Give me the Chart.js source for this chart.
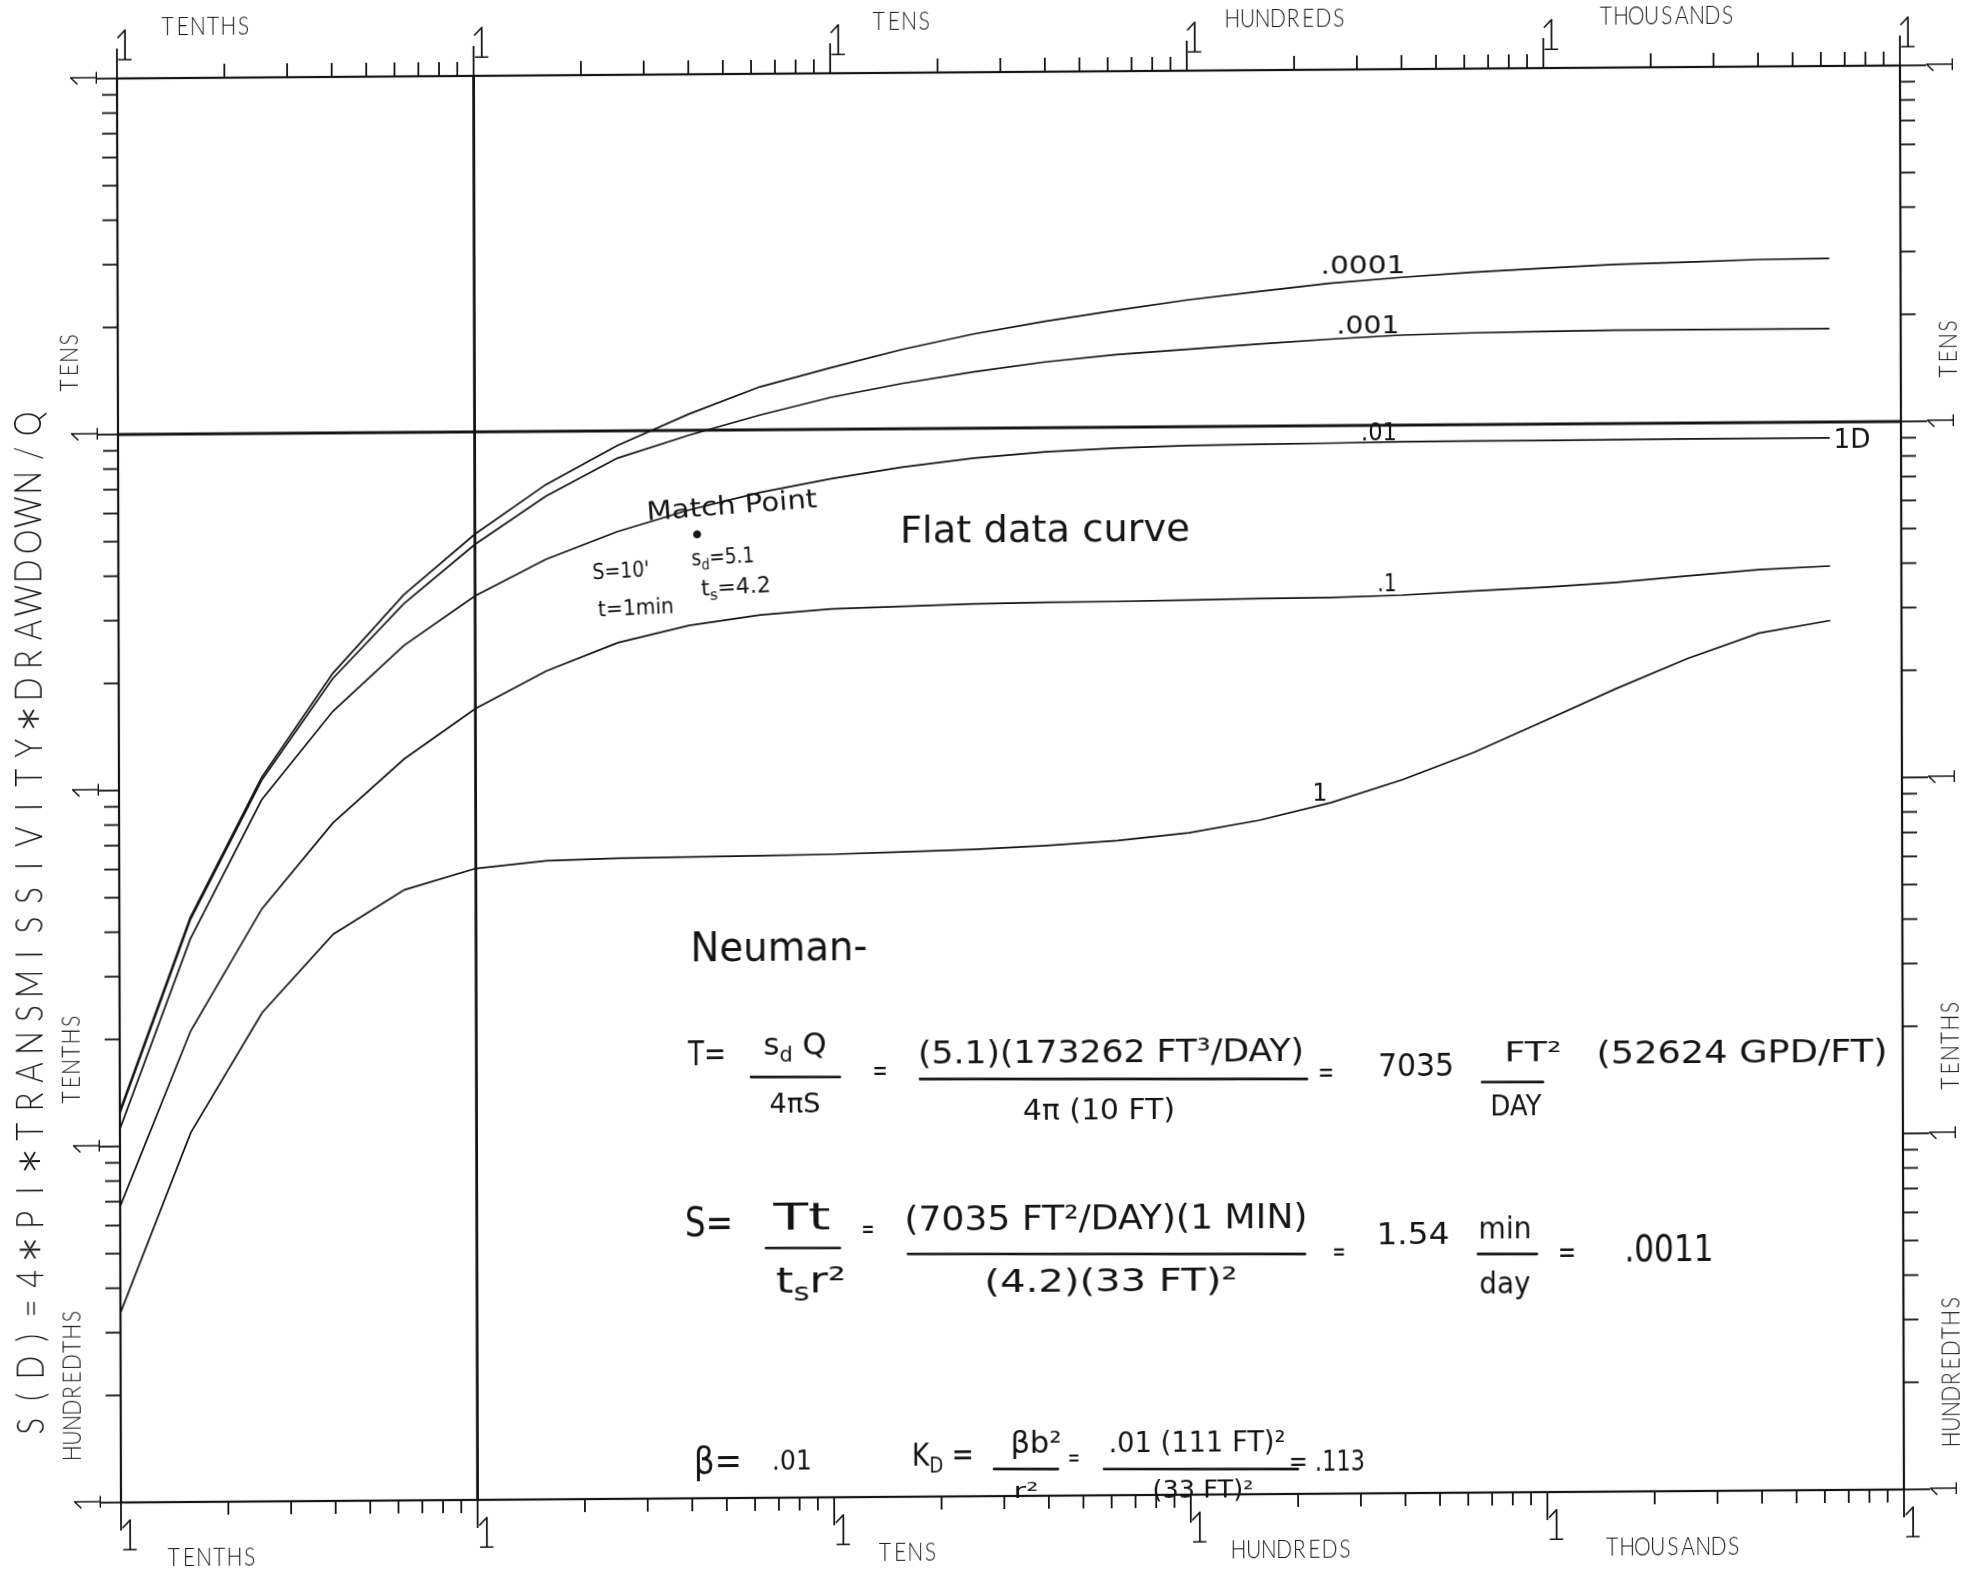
<!DOCTYPE html>
<html>
<head>
<meta charset="utf-8">
<title>Neuman type curves - S(D) vs dimensionless time</title>
<script src="https://cdn.jsdelivr.net/npm/chart.js@4.4.1/dist/chart.umd.min.js"></script>
<style>
  html, body { margin: 0; padding: 0; background: #fff; overflow: hidden; }
  #sheet { position: absolute; left: 0; top: 0; width: 1986px; height: 1572px;
           transform-origin: 1010px 784px; transform: matrix(1, -0.0073, 0.0028, 1, 0, 0); }
  canvas { display: block; }
</style>
</head>
<body>
<div id="sheet"><canvas id="chart" width="1986" height="1572"></canvas></div>
<script>
// ---- data -------------------------------------------------------------
// dimensionless time, five points per log cycle
const dimensionlessTime = [0.1, 0.158, 0.251, 0.398, 0.631, 1, 1.58, 2.51, 3.98, 6.31,
  10, 15.8, 25.1, 39.8, 63.1, 100, 158, 251, 398, 631, 1000, 1580, 2510, 3980, 6310];

// dimensionless drawdown S(D) for each beta
const sdBetaPt0001 = [0.126, 0.438, 1.08, 2.11, 3.50, 5.16, 7.08, 9.09, 11.1, 13.2, 14.9, 16.7, 18.4,
  19.9, 21.3, 22.7, 23.9, 25.1, 26.0, 26.8, 27.4, 28.0, 28.3, 28.7, 28.8];
const sdBetaPt001 = [0.124, 0.431, 1.06, 2.04, 3.30, 4.83, 6.57, 8.38, 9.68, 11.0, 12.3, 13.4, 14.4,
  15.3, 16.0, 16.5, 17.0, 17.5, 17.9, 18.1, 18.2, 18.3, 18.3, 18.3, 18.3];
const sdBetaPt01 = [0.112, 0.381, 0.934, 1.65, 2.52, 3.46, 4.37, 5.21, 5.97, 6.67, 7.27, 7.80, 8.24,
  8.55, 8.74, 8.85, 8.89, 8.93, 8.98, 8.99, 9.00, 9.01, 9.02, 9.02, 9.03];
const sdBetaPt1 = [0.0679, 0.210, 0.462, 0.803, 1.21, 1.67, 2.12, 2.54, 2.83, 3.02, 3.13, 3.17, 3.21,
  3.23, 3.24, 3.26, 3.28, 3.29, 3.33, 3.41, 3.48, 3.58, 3.72, 3.86, 3.94];
const sdBetaOne = [0.0341, 0.109, 0.236, 0.391, 0.519, 0.594, 0.622, 0.630, 0.633, 0.636, 0.640, 0.648,
  0.656, 0.670, 0.690, 0.723, 0.782, 0.874, 1.01, 1.20, 1.47, 1.80, 2.18, 2.56, 2.77];

const curveNames = ['.0001', '.001', '.01', '.1', '1'];
const curveValues = [sdBetaPt0001, sdBetaPt001, sdBetaPt01, sdBetaPt1, sdBetaOne];

// log-log sheet: decades, minor steps, labels
const xDecades = [0.1, 1, 10, 100, 1000, 10000];
const yDecades = [0.01, 0.1, 1, 10, 100];
const minorSteps = [2, 3, 4, 5, 6, 7, 8, 9];
const decadeTickLabel = '1';
const xDecadeNames = ['TENTHS', '', 'TENS', 'HUNDREDS', 'THOUSANDS'];
const yDecadeNames = ['HUNDREDTHS', 'TENTHS', '', 'TENS'];
const yAxisTitle = 'S(D)=4*PI*TRANSMISSIVITY*DRAWDOWN/Q';

// field-data axes laid over the type curves, and the match point
const fieldTime = 1;       // t = 1 min
const fieldDrawdown = 10;  // s = 10 ft
const matchPoint = { x: 4.2, y: 5.1 }; // (ts, sd)

// ---- layout of the hand notes (sheet pixels) ----------------------------
const curveLabelSpots = [
  { x: 1363, y: 267, w: 85 }, { x: 1368, y: 327, w: 63 }, { x: 1379, y: 434, w: 36 },
  { x: 1387, y: 585, w: 19 }, { x: 1320, y: 795, w: 0 }
];
const notes = [
  { t: '1D', x: 1852, y: 441, w: 37, s: 26 },
  { t: 'Match Point', x: 732, y: 507, w: 171, s: 26, r: -0.07 },
  { t: "S=10'", x: 621, y: 572, w: 57, s: 22, r: -0.05 },
  { t: 's_d=5.1', x: 723, y: 558, w: 63, s: 22, r: -0.05 },
  { t: 't_s=4.2', x: 736, y: 588, w: 70, s: 22, r: -0.05 },
  { t: 't=1min', x: 636, y: 609, w: 76, s: 22, r: -0.04 },
  { t: 'Flat data curve', x: 1045, y: 532, w: 290, s: 38 },
  { t: 'Neuman-', x: 779, y: 950, w: 177, s: 40 },
  // T
  { t: 'T=', x: 707, y: 1056, w: 38, s: 34 },
  { t: 's_d Q', x: 795, y: 1047, w: 63, s: 30 },
  { t: '4πS', x: 795, y: 1106, w: 51, s: 26 },
  { t: '=', x: 880, y: 1073, w: 15, s: 28 },
  { t: '(5.1)(173262 FT³/DAY)', x: 1111, y: 1054, w: 386, s: 32 },
  { t: '4π (10 FT)', x: 1099, y: 1112, w: 152, s: 28 },
  { t: '=', x: 1326, y: 1074, w: 16, s: 28 },
  { t: '7035', x: 1416, y: 1068, w: 76, s: 32 },
  { t: 'FT²', x: 1533, y: 1054, w: 57, s: 26 },
  { t: 'DAY', x: 1516, y: 1108, w: 51, s: 28 },
  { t: '(52624 GPD/FT)', x: 1742, y: 1054, w: 291, s: 32 },
  // S
  { t: 'S=', x: 709, y: 1226, w: 48, s: 40 },
  { t: 'Tt', x: 802, y: 1220, w: 57, s: 38 },
  { t: 't_sr²', x: 811, y: 1283, w: 70, s: 36 },
  { t: '=', x: 868, y: 1231, w: 13, s: 26 },
  { t: '(7035 FT²/DAY)(1 MIN)', x: 1106, y: 1220, w: 403, s: 34 },
  { t: '(4.2)(33 FT)²', x: 1111, y: 1283, w: 253, s: 32 },
  { t: '=', x: 1339, y: 1254, w: 13, s: 26 },
  { t: '1.54', x: 1413, y: 1236, w: 73, s: 30 },
  { t: 'min', x: 1505, y: 1231, w: 53, s: 30 },
  { t: 'day', x: 1505, y: 1286, w: 51, s: 30 },
  { t: '=', x: 1567, y: 1254, w: 18, s: 30 },
  { t: '.0011', x: 1669, y: 1251, w: 89, s: 38 },
  // beta and KD
  { t: 'β=', x: 718, y: 1463, w: 48, s: 38 },
  { t: '.01', x: 792, y: 1463, w: 40, s: 26 },
  { t: 'K_D =', x: 943, y: 1457, w: 62, s: 32 },
  { t: 'βb²', x: 1036, y: 1445, w: 51, s: 30 },
  { t: 'r²', x: 1026, y: 1492, w: 25, s: 22 },
  { t: '=', x: 1074, y: 1459, w: 12, s: 24 },
  { t: '.01 (111 FT)²', x: 1197, y: 1444, w: 177, s: 28 },
  { t: '(33 FT)²', x: 1203, y: 1491, w: 101, s: 24 },
  { t: '= .113', x: 1327, y: 1463, w: 76, s: 28 }
];
const fractionBars = [
  [751, 1077, 840, 1077], [920, 1079, 1307, 1079], [1482, 1082, 1543, 1082],
  [766, 1248, 840, 1248], [908, 1254, 1305, 1254], [1478, 1254, 1537, 1254],
  [994, 1469, 1058, 1469], [1104, 1469, 1298, 1469]
];

// ---- drawing helpers ----------------------------------------------------
const INK = '#141414';
const PLOT_FONT = 'Lato, "DejaVu Sans", sans-serif';
const HAND = '"DejaVu Sans", "Noto Sans", sans-serif';

// the canvas is sheared by CSS; notes are placed in sheet space
function onSheet(x, y) {
  return { x: x - 0.0028 * (y - 784), y: y + 0.0073 * (x - 1010) };
}

function seg(ctx, x1, y1, x2, y2) {
  ctx.beginPath(); ctx.moveTo(x1, y1); ctx.lineTo(x2, y2); ctx.stroke();
}

// hand lettering: '_x' puts a single character as subscript
function drawNote(ctx, text, sx0, sy0, size, width, rot) {
  const p = onSheet(sx0, sy0);
  const runs = [];
  for (let i = 0; i < text.length; i++) {
    if (text[i] === '_' && i + 1 < text.length) { runs.push({ s: text[i + 1], sub: true }); i++; }
    else if (runs.length && !runs[runs.length - 1].sub) runs[runs.length - 1].s += text[i];
    else runs.push({ s: text[i], sub: false });
  }
  let total = 0;
  runs.forEach(r => {
    ctx.font = (r.sub ? size * 0.68 : size) + 'px ' + HAND;
    r.w = ctx.measureText(r.s).width; total += r.w;
  });
  const sx = width ? width / total : 1;
  ctx.save();
  ctx.translate(p.x, p.y);
  if (rot) ctx.rotate(rot);
  ctx.scale(sx, 1);
  ctx.textAlign = 'left'; ctx.textBaseline = 'middle';
  let x = -total / 2;
  runs.forEach(r => {
    ctx.font = (r.sub ? size * 0.68 : size) + 'px ' + HAND;
    ctx.fillText(r.s, x, r.sub ? size * 0.3 : 0);
    x += r.w;
  });
  ctx.restore();
}

// one narrow plotter glyph centred at (x, y) in the current frame
function plotGlyph(ctx, ch, x, y, squeeze) {
  ctx.save();
  ctx.translate(x, y);
  ctx.scale(squeeze, 1);
  ctx.fillText(ch, 0, 0);
  ctx.restore();
}

// plotter lettering at a fixed pitch; vertical text reads upward
function drawPlotter(ctx, text, x, y, size, pitch, align, vertical) {
  ctx.save();
  ctx.translate(x, y);
  if (vertical) ctx.rotate(-Math.PI / 2);
  ctx.font = '300 ' + size + 'px ' + PLOT_FONT;
  ctx.textAlign = 'center'; ctx.textBaseline = 'alphabetic';
  const len = pitch * text.length;
  const start = align === 'center' ? -len / 2 : 0;
  for (let i = 0; i < text.length; i++) {
    plotGlyph(ctx, text[i], start + pitch * (i + 0.5), 0, 0.84);
  }
  ctx.restore();
}

function drawTitle(ctx, text, cx, cy, length, size) {
  const capH = size * 0.72;
  const pitch = length / text.length;
  ctx.save();
  ctx.translate(cx, cy);
  ctx.rotate(-Math.PI / 2);
  ctx.textAlign = 'center'; ctx.textBaseline = 'alphabetic';
  for (let i = 0; i < text.length; i++) {
    const ch = text[i];
    const px = -length / 2 + pitch * (i + 0.5);
    if (ch === '*') {
      ctx.font = '300 ' + (size * 1.8) + 'px ' + PLOT_FONT;
      const m = ctx.measureText('*');
      plotGlyph(ctx, '*', px, (m.actualBoundingBoxAscent - m.actualBoundingBoxDescent) / 2, 1);
    } else {
      ctx.font = '300 ' + size + 'px ' + PLOT_FONT;
      plotGlyph(ctx, ch, px, capH / 2, 0.82);
    }
  }
  ctx.restore();
}

// ---- log-log paper, labels and notes -----------------------------------
const logPaper = {
  id: 'logPaper',
  beforeDatasetsDraw(chart) {
    const ctx = chart.ctx;
    const { left, right, top, bottom } = chart.chartArea;
    const xs = chart.scales.x, ys = chart.scales.y;
    ctx.save();
    ctx.strokeStyle = INK; ctx.lineCap = 'butt';
    ctx.lineWidth = 2.2;
    ctx.strokeRect(left, top, right - left, bottom - top);
    ctx.lineWidth = 1.8;
    xDecades.forEach((d, i) => {
      const p = xs.getPixelForValue(d);
      seg(ctx, p, top, p, top - 30);
      seg(ctx, p, bottom, p, bottom + 28);
      if (i < xDecades.length - 1) {
        minorSteps.forEach(m => {
          const q = xs.getPixelForValue(m * d);
          seg(ctx, q, top, q, top - 14);
          seg(ctx, q, bottom, q, bottom + 13);
        });
      }
    });
    yDecades.forEach((d, i) => {
      const p = ys.getPixelForValue(d);
      seg(ctx, left, p, left - 20, p);
      seg(ctx, right, p, right + 26, p);
      if (i < yDecades.length - 1) {
        minorSteps.forEach(m => {
          const q = ys.getPixelForValue(m * d);
          seg(ctx, left, q, left - 15, q);
          seg(ctx, right, q, right + 15, q);
        });
      }
    });
    ctx.restore();
  },
  afterDraw(chart) {
    const ctx = chart.ctx;
    const { left, right, top, bottom } = chart.chartArea;
    const xs = chart.scales.x, ys = chart.scales.y;
    ctx.save();
    ctx.fillStyle = INK; ctx.strokeStyle = INK;

    // decade marks
    const tickSize = 44;
    xDecades.forEach(d => {
      const p = xs.getPixelForValue(d);
      drawPlotter(ctx, decadeTickLabel, p + 7, top - 18, tickSize, 14, 'center', false);
      drawPlotter(ctx, decadeTickLabel, p + 8, bottom + 48, tickSize, 14, 'center', false);
    });
    yDecades.forEach(d => {
      const p = ys.getPixelForValue(d);
      drawPlotter(ctx, decadeTickLabel, left - 20, p, 38, 14, 'center', true);
      drawPlotter(ctx, decadeTickLabel, right + 26 + 38 * 0.72, p, 38, 14, 'center', true);
    });

    // decade names
    const xNameOffsets = [43, 0, 41, 38, 55];
    xDecadeNames.forEach((name, i) => {
      if (!name) return;
      const p = xs.getPixelForValue(xDecades[i]) + xNameOffsets[i];
      drawPlotter(ctx, name, p, top - 43, 25, 15.2, 'left', false);
      drawPlotter(ctx, name, p + 2, bottom + 64, 25, 15.2, 'left', false);
    });
    yDecadeNames.forEach((name, i) => {
      if (!name) return;
      const p = ys.getPixelForValue(yDecades[i]) - 42;
      drawPlotter(ctx, name, left - 40, p, 25, 15.2, 'left', true);
      drawPlotter(ctx, name, right + 56, p, 25, 15.2, 'left', true);
    });

    // axis title
    drawTitle(ctx, yAxisTitle, 28, 918, 1032, 38);

    // curve names (beta)
    curveNames.forEach((name, i) => {
      const s = curveLabelSpots[i];
      drawNote(ctx, name, s.x, s.y, 24, s.w, 0);
    });

    // hand notes and fraction bars
    notes.forEach(n => drawNote(ctx, n.t, n.x, n.y, n.s, n.w, n.r || 0));
    ctx.lineWidth = 2.6; ctx.lineCap = 'round';
    fractionBars.forEach(b => {
      const a = onSheet(b[0], b[1]), c = onSheet(b[2], b[3]);
      seg(ctx, a.x, a.y, c.x, c.y);
    });
    ctx.restore();
  }
};

// ---- chart --------------------------------------------------------------
const curveSets = curveNames.map((name, i) => ({
  label: name,
  data: dimensionlessTime.map((t, j) => ({ x: t, y: curveValues[i][j] })),
  showLine: true, borderColor: INK, borderWidth: 1.7,
  pointRadius: 0, fill: false, tension: 0
}));

new Chart(document.getElementById('chart'), {
  type: 'scatter',
  data: {
    datasets: [
      ...curveSets,
      { label: 't = 1 min', data: [{ x: fieldTime, y: yDecades[0] }, { x: fieldTime, y: yDecades[yDecades.length - 1] }],
        showLine: true, borderColor: INK, borderWidth: 2.8, pointRadius: 0 },
      { label: 's = 10 ft', data: [{ x: xDecades[0], y: fieldDrawdown }, { x: xDecades[xDecades.length - 1], y: fieldDrawdown }],
        showLine: true, borderColor: INK, borderWidth: 2.8, pointRadius: 0 },
      { label: 'Match Point', data: [matchPoint], showLine: false, pointRadius: 3.5,
        backgroundColor: INK, borderColor: INK }
    ]
  },
  options: {
    responsive: false,
    animation: false,
    devicePixelRatio: 1,
    layout: { padding: { left: 119, right: 84, top: 72, bottom: 76 } },
    plugins: { legend: { display: false }, tooltip: { enabled: false } },
    scales: {
      x: { type: 'logarithmic', min: xDecades[0], max: xDecades[xDecades.length - 1], display: false },
      y: { type: 'logarithmic', min: yDecades[0], max: yDecades[yDecades.length - 1], display: false }
    }
  },
  plugins: [logPaper]
});
</script>
</body>
</html>
